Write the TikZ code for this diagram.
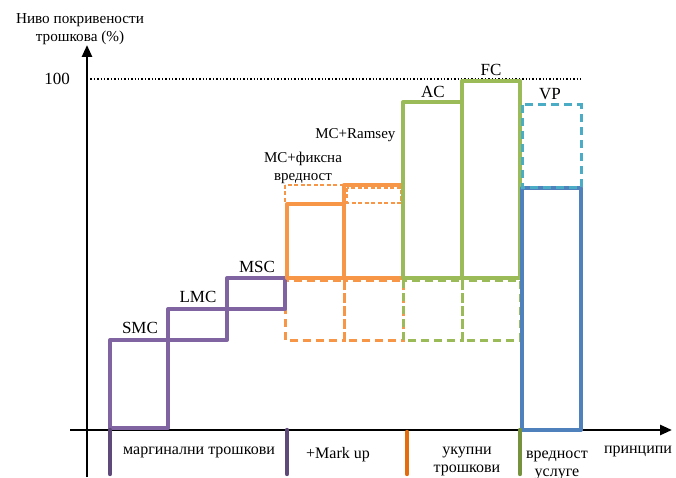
\documentclass[tikz,border=0pt]{standalone}
\usepackage{fontspec}
\setmainfont{Liberation Serif}
\usetikzlibrary{arrows.meta}
\definecolor{cpurple}{HTML}{8064A2}
\definecolor{dpurple}{HTML}{5F497A}
\definecolor{corange}{HTML}{F79646}
\definecolor{dorange}{HTML}{E46C0A}
\definecolor{cgreen}{HTML}{9BBB59}
\definecolor{dgreen}{HTML}{76923C}
\definecolor{cblue}{HTML}{4F81BD}
\definecolor{ccyan}{HTML}{4BACC6}
\begin{document}
\begin{tikzpicture}[x=1pt,y=-1pt,
  axis/.style={line width=2.6pt,-{Triangle[length=12pt,width=10pt]}},
  solidbox/.style={line width=4pt,line join=round},
  dashbox/.style={line width=3pt,dash pattern=on 8pt off 5pt},
  thindash/.style={line width=1.6pt,dash pattern=on 4pt off 2.5pt},
  tick/.style={line width=4.4pt,line cap=round},
  big/.style={font=\fontsize{17}{19}\selectfont},
  mid/.style={font=\fontsize{16}{18}\selectfont,align=center},
  small/.style={font=\fontsize{15}{18}\selectfont,align=center}]
\useasboundingbox (0,0) rectangle (676,478);

% axes
\draw[axis] (70,430) -- (672,430);
\draw[axis] (87,477) -- (87,45);
\draw[line width=1.4pt,dotted] (87,79) -- (582,79);

% lower dashed boxes (orange and green)
\draw[dashbox,corange] (285,280) rectangle (344,340);
\draw[dashbox,corange] (344,280) rectangle (403,340);
\draw[dashbox,cgreen] (403,280) rectangle (462,340);
\draw[dashbox,cgreen] (462,280) rectangle (520,340);

% marginal cost steps
\draw[solidbox,cpurple] (110,340) rectangle (168,428);
\draw[solidbox,cpurple] (168,309) rectangle (227,340);
\draw[solidbox,cpurple] (227,278) rectangle (285,309);

% fixed-value mark-ups
\draw[thindash,corange] (285,185) rectangle (344,204);
\draw[thindash,corange] (347,188) rectangle (401,203);
\draw[solidbox,corange] (287,204) rectangle (344,278);
\draw[solidbox,corange] (344,185) rectangle (403,278);

% total cost boxes
\draw[solidbox,cgreen] (403,102) rectangle (462,278);
\draw[solidbox,cgreen] (462,81) rectangle (520,278);

% value of service
\draw[solidbox,cblue] (522,188) rectangle (581,430);
\draw[dashbox,ccyan] (522,105) rectangle (581,188);

% category ticks under the axis
\draw[tick,dpurple] (110,430) -- (110,474);
\draw[tick,dpurple] (287,430) -- (287,474);
\draw[tick,dorange] (407,432) -- (407,474);
\draw[tick,dgreen] (520,430) -- (520,474);

% labels
\node[font=\fontsize{15.2}{19}\selectfont,align=center] (ylab) at (80,29) {Ниво покривености\\[-1pt]трошкова (\%)};
\node[big] (h100) at (57,79) {100};
\node[big] (smc) at (140,328) {SMC};
\node[big] (lmc) at (198,297) {LMC};
\node[big] (msc) at (257,267) {MSC};
\node[big] (ac) at (433,92) {AC};
\node[big] (fc) at (491,70) {FC};
\node[big] (vp) at (550,94) {VP};
\node[small,anchor=east] (ram) at (399,135) {MC+Ramsey};
\node[small] (fix) at (303,168) {MC+фиксна\\вредност};
\node[mid] (marg) at (199,452) {маргинални трошкови};
\node[mid] (mark) at (338,455) {+Mark up};
\node[mid] (tot) at (467,462) {укупни\\трошкови};
\node[mid] (val) at (557,465) {вредност\\услуге};
\node[mid] (pri) at (638,451) {принципи};
\end{tikzpicture}
\end{document}
